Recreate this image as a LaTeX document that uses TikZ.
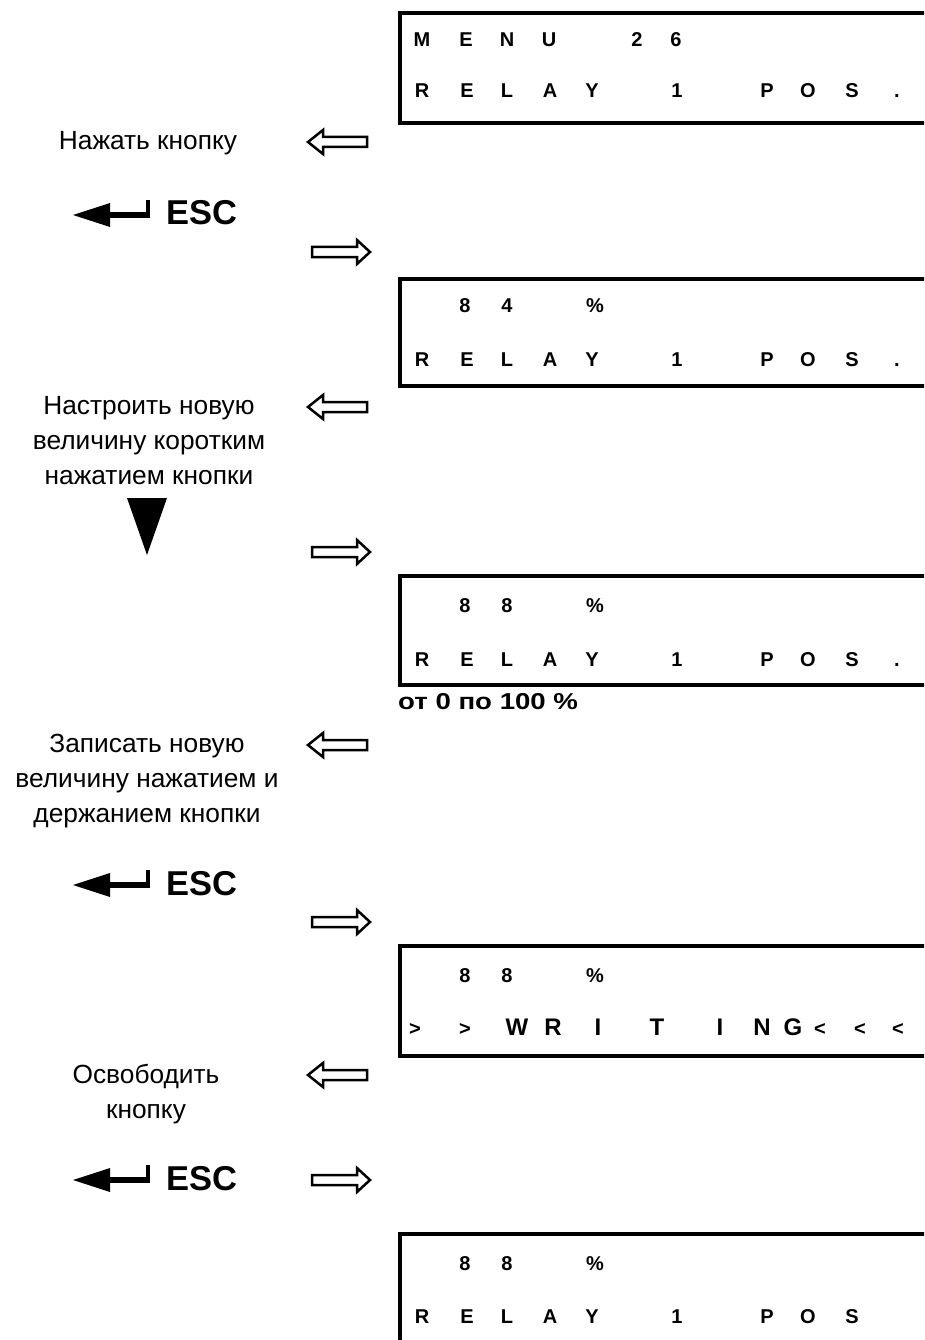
\documentclass[tikz,border=0pt]{standalone}
\usepackage{fontspec}
\setmainfont{Liberation Sans}
\tikzset{
  lcd/.style={font=\fontsize{20}{20}\selectfont\bfseries, anchor=base, inner sep=0pt},
  lcdbig/.style={font=\fontsize{24}{24}\selectfont\bfseries, anchor=base, inner sep=0pt},
  lbl/.style={font=\fontsize{26.3}{30}\selectfont, anchor=base, inner sep=0pt},
  esctext/.style={font=\fontsize{34.5}{35}\selectfont\bfseries, anchor=base west, inner sep=0pt},
  note/.style={font=\fontsize{23}{23}\selectfont\bfseries, anchor=base west, inner sep=0pt},
  lcdbox/.style={draw, line width=4pt, anchor=north west, inner sep=0pt, outer sep=0pt, minimum width=560pt},
  hollow/.style={draw, line width=2.5pt, line join=miter, fill=white},
  leftarrow/.pic={\path[hollow] (0,0) -- (15,-12) -- (15,-5) -- (59,-5) -- (59,5) -- (15,5) -- (15,12) -- cycle;},
  rightarrow/.pic={\path[hollow] (0,0) -- (-13,-12) -- (-13,-5) -- (-58,-5) -- (-58,5) -- (-13,5) -- (-13,12) -- cycle;},
  escarrow/.pic={\fill (0,0) -- (37,-12) -- (37,12) -- cycle; \fill (36,-3) rectangle (77,3); \fill (73,-15) rectangle (77,3);},
}
\begin{document}
\begin{tikzpicture}[x=1pt,y=-1pt]
\useasboundingbox (0,0) rectangle (924,1340);
\clip (0,0) rectangle (924,1340);
\fill[white] (0,0) rectangle (924,1340);

% boxes
\node[lcdbox, minimum height=109.5pt] (b1) at (400,13.5) {};
\node[lcdbox, minimum height=107.5pt] (b2) at (400,278.5) {};
\node[lcdbox, minimum height=108.5pt] (b3) at (400,576) {};
\node[lcdbox, minimum height=109.5pt] (b4) at (400,946) {};
\node[lcdbox, minimum height=109.5pt] (b5) at (400,1233.5) {};

% box 1
\foreach \ch/\xx [count=\i] in {M/422,E/466,N/507,U/549,2/637,6/676}
  \node[lcd] (b1a\i) at (\xx,47) {\ch};
\foreach \ch/\xx [count=\i] in {R/422,E/467,L/507,A/550,Y/592,1/677,P/767,O/808,S/852,./897}
  \node[lcd] (b1b\i) at (\xx,98) {\ch};
% box 2
\foreach \ch/\xx [count=\i] in {8/465,4/507,\%/595}
  \node[lcd] (b2a\i) at (\xx,312) {\ch};
\foreach \ch/\xx [count=\i] in {R/422,E/467,L/507,A/550,Y/592,1/677,P/767,O/808,S/852,./897}
  \node[lcd] (b2b\i) at (\xx,366) {\ch};
% box 3
\foreach \ch/\xx [count=\i] in {8/465,8/507,\%/595}
  \node[lcd] (b3a\i) at (\xx,612) {\ch};
\foreach \ch/\xx [count=\i] in {R/422,E/467,L/507,A/550,Y/592,1/677,P/767,O/808,S/852,./897}
  \node[lcd] (b3b\i) at (\xx,666) {\ch};
% box 4
\foreach \ch/\xx [count=\i] in {8/465,8/507,\%/595}
  \node[lcd] (b4a\i) at (\xx,982) {\ch};
\foreach \ch/\xx [count=\i] in {>/415,>/465}
  \node[lcd] (b4b\i) at (\xx,1035) {\ch};
\foreach \ch/\xx [count=\i] in {W/517,R/553,I/598,T/657,I/720,N/762,G/793}
  \node[lcdbig] (b4c\i) at (\xx,1035) {\ch};
\foreach \ch/\xx [count=\i] in {</820,</860,</898}
  \node[lcd] (b4d\i) at (\xx,1035) {\ch};
% box 5
\foreach \ch/\xx [count=\i] in {8/465,8/507,\%/595}
  \node[lcd] (b5a\i) at (\xx,1270) {\ch};
\foreach \ch/\xx [count=\i] in {R/422,E/467,L/507,A/550,Y/592,1/677,P/767,O/808,S/852}
  \node[lcd] (b5b\i) at (\xx,1323) {\ch};

% range note
\node[note] (range) at (398,709) {\scalebox{1.2}[1]{от 0 по 100 \%}};

% labels
\node[lbl] (l1) at (148,150) {Нажать кнопку};
\node[lbl] (l2a) at (149,414) {Настроить новую};
\node[lbl] (l2b) at (149,449) {величину коротким};
\node[lbl] (l2c) at (149,484) {нажатием кнопки};
\node[lbl] (l3a) at (147,752) {Записать новую};
\node[lbl] (l3b) at (147,787) {величину нажатием и};
\node[lbl] (l3c) at (147,822) {держанием кнопки};
\node[lbl] (l4a) at (146,1083) {Освободить};
\node[lbl] (l4b) at (146,1118) {кнопку};

% ESC keys
\pic at (73,215) {escarrow};
\node[esctext] (esc1) at (166,225) {ESC};
\pic at (73,885) {escarrow};
\node[esctext] (esc2) at (166,895) {ESC};
\pic at (73,1180) {escarrow};
\node[esctext] (esc3) at (166,1190) {ESC};

% down key
\fill (127,498) -- (167,498) -- (147,555) -- cycle;

% hollow arrows
\pic at (308,142) {leftarrow};
\pic at (308,407) {leftarrow};
\pic at (308,745) {leftarrow};
\pic at (308,1075) {leftarrow};
\pic at (370,252) {rightarrow};
\pic at (370,552) {rightarrow};
\pic at (370,922) {rightarrow};
\pic at (370,1180) {rightarrow};
\end{tikzpicture}
\end{document}
